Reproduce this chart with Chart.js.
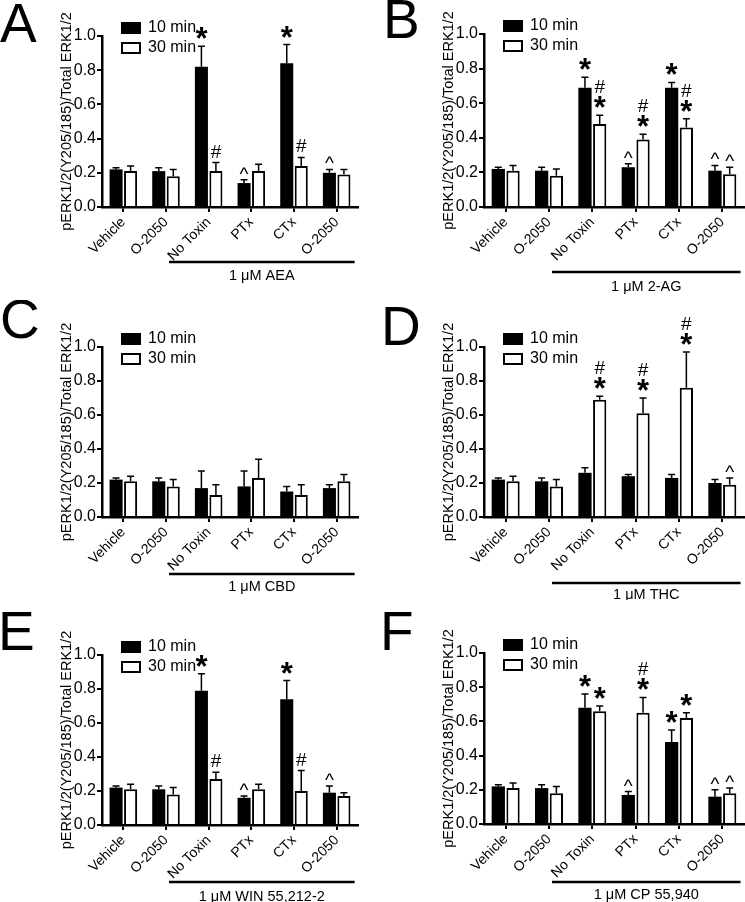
<!DOCTYPE html>
<html>
<head>
<meta charset="utf-8">
<script src="https://cdn.jsdelivr.net/npm/chart.js@4.4.0/dist/chart.umd.min.js"></script>
<style>
  html, body { margin: 0; padding: 0; background: #fff; }
  #fig { position: relative; width: 745px; height: 902px; }
  #fig canvas { position: absolute; }
</style>
</head>
<body>
<div id="fig"></div>
<script>
// ----- Shared -----
const FONT = '"Liberation Sans", Arial, Helvetica, sans-serif';
Chart.defaults.font.family = FONT;
Chart.defaults.color = "#000";

const categories = ["Vehicle", "O-2050", "No Toxin", "PTx", "CTx", "O-2050"];
const seriesLabels = ["10 min", "30 min"];
const yTickValues = [0, 0.2, 0.4, 0.6, 0.8, 1.0];
const yTitle = "pERK1/2(Y205/185)/Total ERK1/2";

// ----- Panel A: 1 uM AEA -----
const aeaMean10 = [0.22, 0.21, 0.82, 0.14, 0.84, 0.20];
const aeaSem10 = [0.01, 0.02, 0.12, 0.02, 0.11, 0.02];
const aeaMean30 = [0.21, 0.18, 0.21, 0.21, 0.24, 0.19];
const aeaSem30 = [0.03, 0.04, 0.05, 0.04, 0.05, 0.03];
const aeaSig10 = ["", "", "*", "^", "*", "^"];
const aeaSig30 = ["", "", "#", "", "#", ""];

// ----- Panel B: 1 uM 2-AG -----
const agMean10 = [0.22, 0.21, 0.69, 0.23, 0.69, 0.21];
const agSem10 = [0.01, 0.02, 0.06, 0.02, 0.03, 0.03];
const agMean30 = [0.21, 0.18, 0.48, 0.39, 0.46, 0.19];
const agSem30 = [0.03, 0.04, 0.05, 0.03, 0.05, 0.04];
const agSig10 = ["", "", "*", "^", "*", "^"];
const agSig30 = ["", "", "#*", "#*", "#*", "^"];

// ----- Panel C: 1 uM CBD -----
const cbdMean10 = [0.22, 0.21, 0.17, 0.18, 0.15, 0.17];
const cbdSem10 = [0.01, 0.02, 0.10, 0.09, 0.03, 0.02];
const cbdMean30 = [0.21, 0.18, 0.13, 0.23, 0.13, 0.21];
const cbdSem30 = [0.03, 0.04, 0.06, 0.11, 0.06, 0.04];
const cbdSig10 = ["", "", "", "", "", ""];
const cbdSig30 = ["", "", "", "", "", ""];

// ----- Panel D: 1 uM THC -----
const thcMean10 = [0.22, 0.21, 0.26, 0.24, 0.23, 0.20];
const thcSem10 = [0.01, 0.02, 0.03, 0.01, 0.02, 0.02];
const thcMean30 = [0.21, 0.18, 0.69, 0.61, 0.76, 0.19];
const thcSem30 = [0.03, 0.04, 0.02, 0.09, 0.21, 0.04];
const thcSig10 = ["", "", "", "", "", ""];
const thcSig30 = ["", "", "#*", "#*", "#*", "^"];

// ----- Panel E: 1 uM WIN 55,212-2 -----
const winMean10 = [0.22, 0.21, 0.79, 0.16, 0.74, 0.19];
const winSem10 = [0.01, 0.02, 0.10, 0.01, 0.11, 0.04];
const winMean30 = [0.21, 0.18, 0.27, 0.21, 0.20, 0.17];
const winSem30 = [0.03, 0.04, 0.04, 0.03, 0.12, 0.02];
const winSig10 = ["", "", "*", "^", "*", "^"];
const winSig30 = ["", "", "#", "", "#", ""];

// ----- Panel F: 1 uM CP 55,940 -----
const cpMean10 = [0.22, 0.21, 0.68, 0.17, 0.48, 0.16];
const cpSem10 = [0.01, 0.02, 0.08, 0.02, 0.07, 0.04];
const cpMean30 = [0.21, 0.18, 0.66, 0.65, 0.62, 0.18];
const cpSem30 = [0.03, 0.04, 0.03, 0.09, 0.03, 0.03];
const cpSig10 = ["", "", "*", "^", "*", "^"];
const cpSig30 = ["", "", "*", "#*", "*", "^"];

// ----- Layout of the six panels -----
const panels = [
  { letter: "A", drug: "1 \u03bcM AEA", m10: aeaMean10, e10: aeaSem10, m30: aeaMean30, e30: aeaSem30, s10: aeaSig10, s30: aeaSig30,
    box: [0, 0, 372, 300], pad: { top: 36, bottom: 38, left: 58, right: 14 }, letterAt: [0, 42], lineY: 55, labelY: 69 },
  { letter: "B", drug: "1 \u03bcM 2-AG", m10: agMean10, e10: agSem10, m30: agMean30, e30: agSem30, s10: agSig10, s30: agSig30,
    box: [372, 0, 373, 300], pad: { top: 34, bottom: 38, left: 68, right: 1 }, letterAt: [11, 38], lineY: 65, labelY: 80 },
  { letter: "C", drug: "1 \u03bcM CBD", m10: cbdMean10, e10: cbdSem10, m30: cbdMean30, e30: cbdSem30, s10: cbdSig10, s30: cbdSig30,
    box: [0, 300, 372, 300], pad: { top: 47, bottom: 28, left: 58, right: 14 }, letterAt: [0, 38], lineY: 57, labelY: 70 },
  { letter: "D", drug: "1 \u03bcM THC", m10: thcMean10, e10: thcSem10, m30: thcMean30, e30: thcSem30, s10: thcSig10, s30: thcSig30,
    box: [372, 300, 373, 300], pad: { top: 47, bottom: 28, left: 68, right: 1 }, letterAt: [9, 45], lineY: 66, labelY: 78 },
  { letter: "E", drug: "1 \u03bcM WIN 55,212-2", m10: winMean10, e10: winSem10, m30: winMean30, e30: winSem30, s10: winSig10, s30: winSig30,
    box: [0, 600, 372, 302], pad: { top: 55, bottom: 22, left: 58, right: 14 }, letterAt: [-2, 50], lineY: 57, labelY: 72 },
  { letter: "F", drug: "1 \u03bcM CP 55,940", m10: cpMean10, e10: cpSem10, m30: cpMean30, e30: cpSem30, s10: cpSig10, s30: cpSig30,
    box: [372, 600, 373, 302], pad: { top: 53, bottom: 23, left: 68, right: 1 }, letterAt: [8, 50], lineY: 58, labelY: 71 },
];

// ----- Plugins -----
const errorBarPlugin = {
  id: "errorBars",
  afterDatasetsDraw(chart) {
    const ctx = chart.ctx;
    const y = chart.scales.y;
    ctx.save();
    ctx.strokeStyle = "#000";
    ctx.lineWidth = 1.5;
    chart.data.datasets.forEach((ds, i) => {
      chart.getDatasetMeta(i).data.forEach((bar, j) => {
        const top = y.getPixelForValue(ds.data[j] + ds.sem[j]);
        ctx.beginPath();
        ctx.moveTo(bar.x, bar.y);
        ctx.lineTo(bar.x, top);
        ctx.moveTo(bar.x - 3.5, top);
        ctx.lineTo(bar.x + 3.5, top);
        ctx.stroke();
      });
    });
    ctx.restore();
  },
};

const SYMBOL_FONT = { "*": "bold 31px " + FONT, "#": "19px " + FONT, "^": "19px " + FONT };
const SYMBOL_GAP = { "*": 7, "#": 5, "^": 6 };

const sigPlugin = {
  id: "sigMarks",
  afterDatasetsDraw(chart) {
    const ctx = chart.ctx;
    const y = chart.scales.y;
    ctx.save();
    ctx.fillStyle = "#000";
    ctx.textAlign = "center";
    ctx.textBaseline = "alphabetic";
    chart.data.datasets.forEach((ds, i) => {
      chart.getDatasetMeta(i).data.forEach((bar, j) => {
        let bottom = y.getPixelForValue(ds.data[j] + ds.sem[j]);
        const chars = ds.sig[j].split("").reverse();
        chars.forEach((c, k) => {
          ctx.font = SYMBOL_FONT[c];
          const m = ctx.measureText(c);
          bottom -= k === 0 ? SYMBOL_GAP[c] : 3;
          ctx.fillText(c, bar.x, bottom - m.actualBoundingBoxDescent);
          bottom -= m.actualBoundingBoxAscent + m.actualBoundingBoxDescent;
        });
      });
    });
    ctx.restore();
  },
};

function makeDecoPlugin(p) {
  return {
    id: "deco",
    afterDraw(chart) {
      const ctx = chart.ctx;
      const a = chart.chartArea;
      const x = chart.scales.x;
      ctx.save();

      // legend
      chart.data.datasets.forEach((ds, i) => {
        const bx = a.left + 19, by = a.top - 14 + i * 20;
        ctx.fillStyle = ds.backgroundColor;
        ctx.fillRect(bx, by, 20, 12);
        if (ds.borderWidth) {
          ctx.strokeStyle = "#000";
          ctx.lineWidth = 2;
          ctx.strokeRect(bx + 1, by + 1, 18, 10);
        }
        ctx.fillStyle = "#000";
        ctx.font = "16px " + FONT;
        ctx.textAlign = "left";
        ctx.textBaseline = "middle";
        ctx.fillText(ds.label, bx + 27, by + 6);
      });

      // treatment bracket
      const step = x.getPixelForValue(1) - x.getPixelForValue(0);
      const x0 = x.getPixelForValue(2) - 0.93 * step;
      const x1 = x.getPixelForValue(5) + 0.42 * step;
      ctx.strokeStyle = "#000";
      ctx.lineWidth = 2.5;
      ctx.beginPath();
      ctx.moveTo(x0, a.bottom + p.lineY);
      ctx.lineTo(x1, a.bottom + p.lineY);
      ctx.stroke();
      ctx.font = "14.5px " + FONT;
      ctx.textAlign = "center";
      ctx.textBaseline = "middle";
      ctx.fillText(p.drug, (x0 + x1) / 2, a.bottom + p.labelY);

      // panel letter
      ctx.font = "55px " + FONT;
      ctx.textAlign = "left";
      ctx.textBaseline = "alphabetic";
      ctx.fillText(p.letter, p.letterAt[0], p.letterAt[1]);
      ctx.restore();
    },
  };
}

// ----- Build charts -----
const fig = document.getElementById("fig");

panels.forEach((p) => {
  const canvas = document.createElement("canvas");
  canvas.width = p.box[2];
  canvas.height = p.box[3];
  canvas.style.left = p.box[0] + "px";
  canvas.style.top = p.box[1] + "px";
  canvas.style.width = p.box[2] + "px";
  canvas.style.height = p.box[3] + "px";
  fig.appendChild(canvas);

  new Chart(canvas, {
    type: "bar",
    data: {
      labels: categories,
      datasets: [
        { label: seriesLabels[0], data: p.m10, sem: p.e10, sig: p.s10,
          backgroundColor: "#000", borderColor: "#000", borderWidth: 0,
          categoryPercentage: 0.68, barPercentage: 0.9 },
        { label: seriesLabels[1], data: p.m30, sem: p.e30, sig: p.s30,
          backgroundColor: "#fff", borderColor: "#000", borderWidth: 2,
          categoryPercentage: 0.68, barPercentage: 0.9 },
      ],
    },
    options: {
      responsive: false,
      animation: false,
      devicePixelRatio: 1,
      layout: { padding: p.pad },
      plugins: { legend: { display: false }, tooltip: { enabled: false } },
      scales: {
        x: {
          grid: { drawOnChartArea: false, offset: false, tickLength: 5, color: "#000", lineWidth: 2 },
          border: { color: "#000", width: 2.5 },
          ticks: { font: { size: 14 }, minRotation: 45, maxRotation: 45, autoSkip: false, padding: 2 },
          afterFit(s) { s.height = 55; },
        },
        y: {
          min: 0,
          max: 1,
          afterBuildTicks(s) { s.ticks = yTickValues.map((v) => ({ value: v })); },
          ticks: { font: { size: 16 }, padding: 1, callback: (v) => Number(v).toFixed(1) },
          grid: { drawOnChartArea: false, tickLength: 5, color: "#000", lineWidth: 2 },
          border: { color: "#000", width: 2.5 },
          title: { display: true, text: yTitle, font: { size: 14.5 }, padding: 0 },
          afterFit(s) { s.width = 44; },
        },
      },
    },
    plugins: [errorBarPlugin, sigPlugin, makeDecoPlugin(p)],
  });
});
</script>
</body>
</html>
